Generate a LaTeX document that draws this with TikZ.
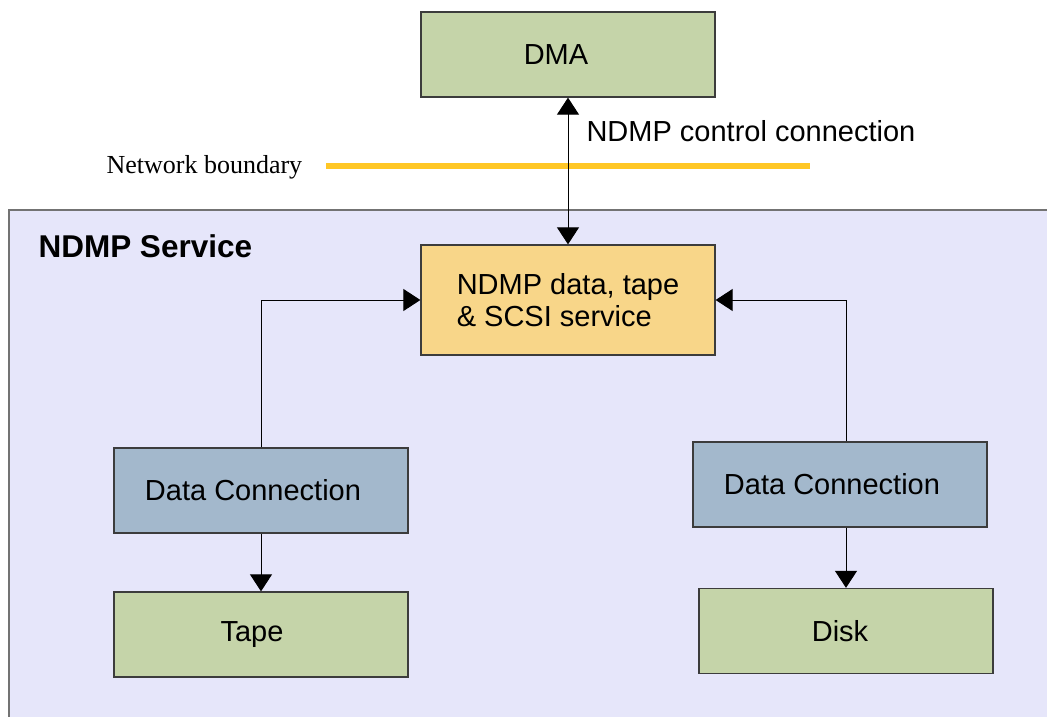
\documentclass[tikz,border=0pt]{standalone}
\usepackage{fontspec}
\setmainfont{Liberation Serif}
\setsansfont{Liberation Sans}
\usetikzlibrary{arrows.meta, calc}

\definecolor{boxgreen}{HTML}{C5D4A9}
\definecolor{boxblue}{HTML}{A3B8CC}
\definecolor{boxorange}{HTML}{F8D689}
\definecolor{servicebg}{HTML}{E6E6FA}
\definecolor{linegold}{HTML}{FFC726}
\definecolor{edgegray}{HTML}{3C3C3C}

\tikzset{
  box/.style={draw=edgegray, line width=1.3pt, minimum width=294pt, minimum height=85pt, inner sep=0pt},
  hwbox/.style={box, fill=boxgreen},
  connbox/.style={box, fill=boxblue},
  txt/.style={font=\sffamily\fontsize{29}{32}\selectfont},
  flow/.style={-{Triangle[length=17pt,width=22pt]}, line width=1pt},
}

\begin{document}
\begin{tikzpicture}[x=1pt, y=-1pt]
\useasboundingbox (0,0) rectangle (1047,717);
\clip (0,0) rectangle (1047,717);
\fill[white] (0,0) rectangle (1047,717);

% Draw service area
\draw[fill=servicebg, draw=gray!90!black, line width=1.5pt] (9,210) rectangle (1080,760);
\node[anchor=west, font=\sffamily\bfseries\fontsize{31.5}{36}\selectfont] (service) at (35,246) {NDMP Service};

% Draw boxes
\node[hwbox, label={[txt, xshift=-12pt]center:DMA}] (dma) at (568,54.5) {};
\node[box, fill=boxorange, minimum height=110pt, txt, align=left] (ndmp) at (568,300) {NDMP data, tape\\\& SCSI service};
\node[connbox, label={[txt, xshift=-8pt]center:Data Connection}] (dcleft) at (261,490.5) {};
\node[hwbox, label={[txt, xshift=-9pt]center:Tape}] (tape) at (261,634.5) {};
\node[connbox, label={[txt, xshift=-8pt]center:Data Connection}] (dcright) at (840,484.5) {};
\node[hwbox, label={[txt, xshift=-6pt]center:Disk}] (disk) at (846,631) {};

% Draw network boundary
\node[anchor=west, font=\rmfamily\fontsize{26}{30}\selectfont] (netlabel) at (103,167) {Network boundary};
\draw[linegold, line width=6pt] (326,166) -- (810,166);

% Draw connections
\draw[{Triangle[length=17pt,width=22pt]}-{Triangle[length=17pt,width=22pt]}, line width=1pt] (dma) -- (ndmp);
\node[txt, anchor=west] (ctl) at (583,131) {NDMP control connection};
\draw[flow] (dcleft.north) |- (ndmp.west);
\draw[flow] (disk.north |- dcright.north) |- (ndmp.east);
\draw[flow] (dcleft) -- (tape);
\draw[flow] (disk.north |- dcright.south) -- (disk.north);
\end{tikzpicture}
\end{document}
